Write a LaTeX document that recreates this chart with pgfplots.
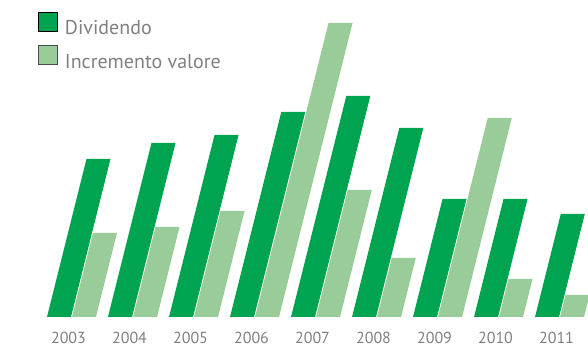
\documentclass[border=0pt]{standalone}
\usepackage{fontspec}
\setmainfont{PT Sans}
\usepackage{pgfplots}
\pgfplotsset{compat=1.18}
\definecolor{dk}{RGB}{0,163,80}
\definecolor{lt}{RGB}{153,204,153}
\definecolor{txt}{RGB}{128,128,128}
\begin{document}
\begin{tikzpicture}[x=1pt,y=1pt]
\begin{axis}[
 at={(0,0)}, anchor=south west,
 scale only axis, width=588pt, height=317pt,
 xmin=-1.1721, xmax=8.4672, ymin=0, ymax=317,
 axis line style={draw=none}, tick style={draw=none},
 ytick=\empty,
 xtick={0,1,2,3,4,5,6,7,8},
 xticklabels={2003,2004,2005,2006,2007,2008,2009,2010,2011},
 xticklabel style={font=\fontsize{16}{16}\selectfont, text=txt, xshift=-3pt, yshift=-7pt},
 ybar, bar width=24pt,
 clip=false,
 legend style={draw=none, fill=none, at={(0.0646,0.962)}, anchor=north west,
   inner sep=0pt, row sep=7pt, column sep=5pt, font=\fontsize{20}{20}\selectfont, text=txt,
   legend cell align=left},
]
\addplot[fill=dk, draw=none, bar shift=-12.5pt, xslant=0.25,
  legend image code/.code={\draw[xslant=-0.25,fill=dk,draw=black,line width=0.8pt] (0pt,-3pt) rectangle (19pt,16pt);}]
  coordinates {(0,158) (1,174) (2,182) (3,205) (4,221) (5,189) (6,118) (7,118) (8,103)};
\addplot[fill=lt, draw=none, bar shift=12.5pt, xslant=0.25,
  legend image code/.code={\draw[xslant=-0.25,fill=lt,draw=black!70,line width=0.8pt] (0pt,-3pt) rectangle (19pt,16pt);}]
  coordinates {(0,84) (1,90) (2,106) (3,294) (4,127) (5,59) (6,199) (7,38) (8,22)};
\legend{Dividendo, Incremento valore}
\end{axis}
\pgfresetboundingbox
\path[use as bounding box] (0,-30) rectangle (588,317);
\end{tikzpicture}
\end{document}
